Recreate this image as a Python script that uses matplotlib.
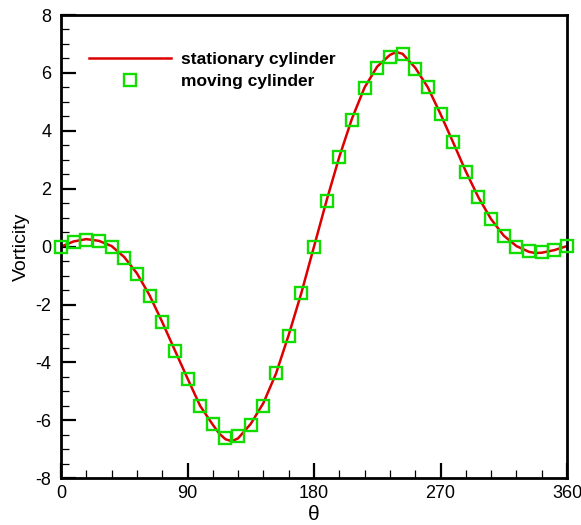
import matplotlib
matplotlib.use("Agg")
import matplotlib.pyplot as plt
from matplotlib.ticker import MultipleLocator

# Data
theta_moving = [0, 9, 18, 27, 36, 45, 54, 63, 72, 81, 90, 99, 108, 117, 126, 135,
                144, 153, 162, 171, 180, 189, 198, 207, 216, 225, 234, 243, 252,
                261, 270, 279, 288, 297, 306, 315, 324, 333, 342, 351, 360]
vort_moving = [0.0, 0.15, 0.22, 0.20, 0.0, -0.39, -0.94, -1.70, -2.59, -3.60,
               -4.57, -5.50, -6.13, -6.62, -6.54, -6.17, -5.49, -4.37, -3.08,
               -1.60, 0.0, 1.58, 3.09, 4.39, 5.49, 6.16, 6.56, 6.64, 6.14,
               5.52, 4.58, 3.61, 2.58, 1.70, 0.96, 0.38, 0.0, -0.15, -0.17,
               -0.11, 0.02]

theta_stat = [0, 9, 18, 27, 36, 45, 54, 63, 72, 81, 90, 99, 108, 112.5, 117, 121.5,
              126, 135, 144, 153, 162, 171, 180, 189, 198, 207, 216, 225, 234,
              238.5, 243, 252, 261, 270, 279, 288, 297, 306, 315, 324, 333, 337.5,
              342, 351, 360]
vort_stat = [0.0, 0.18, 0.26, 0.20, 0.02, -0.36, -0.92, -1.68, -2.60, -3.58,
             -4.55, -5.50, -6.15, -6.45, -6.65, -6.72, -6.62, -6.12, -5.40, -4.38,
             -3.05, -1.60, 0.0, 1.60, 3.10, 4.42, 5.50, 6.22, 6.62, 6.72, 6.66,
             6.18, 5.50, 4.58, 3.60, 2.60, 1.70, 0.95, 0.38, 0.02, -0.18, -0.22,
             -0.21, -0.12, 0.02]

x_ticks = [0, 90, 180, 270, 360]
y_ticks = [-8, -6, -4, -2, 0, 2, 4, 6, 8]

plt.rcParams['font.family'] = ['Liberation Sans', 'DejaVu Sans']
plt.rcParams['axes.unicode_minus'] = False

fig = plt.figure(figsize=(5.81, 5.25), dpi=100)
ax = fig.add_axes([61/581, 1 - 478.3/525, (567 - 61)/581, (478.3 - 15)/525])

ax.plot(theta_stat, vort_stat, color='#dd0000', lw=1.8, label='stationary cylinder', zorder=2)
ax.plot(theta_moving, vort_moving, ls='none', marker='s', ms=8.6, mfc='none',
        mec='#11dd00', mew=1.7, label='moving cylinder', zorder=3, clip_on=False)

ax.set_xlim(0, 360)
ax.set_ylim(-8, 8)
ax.set_xticks(x_ticks)
ax.set_yticks(y_ticks)
ax.xaxis.set_minor_locator(MultipleLocator(18))
ax.yaxis.set_minor_locator(MultipleLocator(0.5))
ax.tick_params(which='major', direction='in', length=11, width=1.6, labelsize=13,
               top=False, right=False)
ax.tick_params(axis='y', which='major', pad=7)
ax.tick_params(axis='x', which='major', pad=5)
ax.tick_params(which='minor', direction='in', length=6, width=0.9, top=False, right=False)
for s in ax.spines.values():
    s.set_linewidth(2)

ax.set_xlabel('θ', fontsize=15, labelpad=2)
ax.set_ylabel('Vorticity', fontsize=14, labelpad=4)

leg = ax.legend(loc='upper left', bbox_to_anchor=(0.025, 0.955), frameon=False,
                prop={'weight': 'bold', 'size': 12.5}, handlelength=4.7, handletextpad=0.6,
                labelspacing=0.4)

fig.savefig('out.png', dpi=100)
